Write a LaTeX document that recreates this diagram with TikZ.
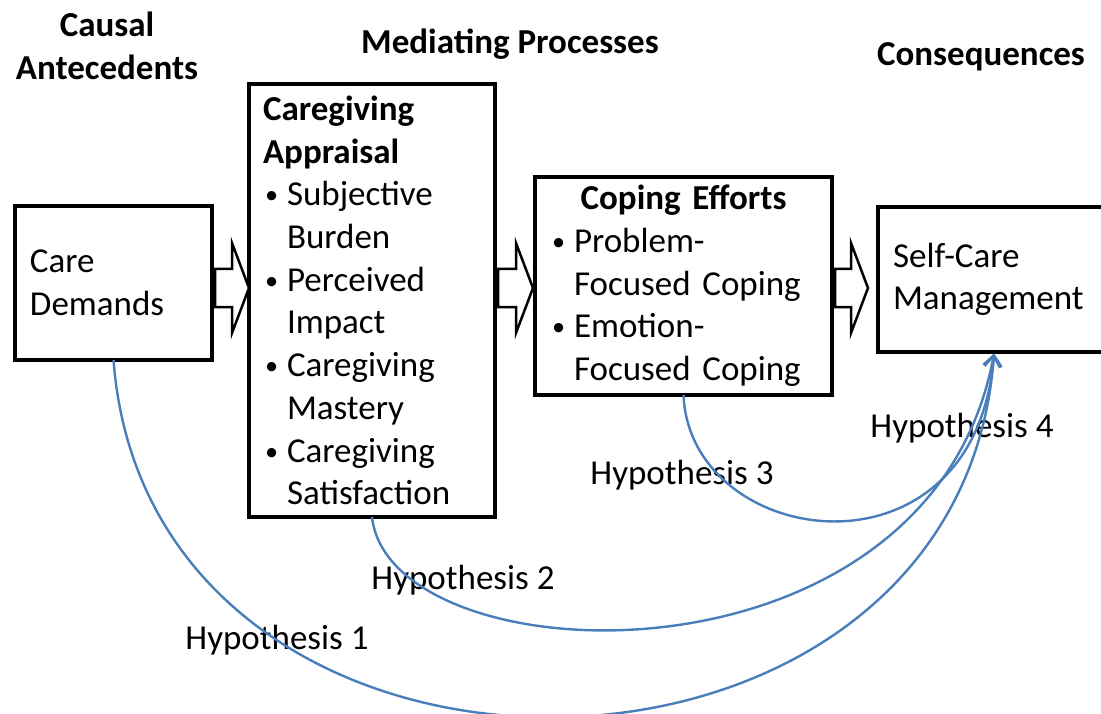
\documentclass[tikz,border=0pt]{standalone}
\usepackage{fontspec}
\setmainfont{Carlito}
\usetikzlibrary{
    arrows.meta,
    positioning,
    calc
}

\definecolor{hypblue}{RGB}{74,126,187}
\newcommand{\bitem}[1]{\makebox[24pt][l]{\hspace{2pt}\raisebox{2pt}{\scalebox{0.75}{\textbullet}}}#1}
\newcommand{\bcont}[1]{\hspace*{24pt}#1}

\begin{document}
\begin{tikzpicture}[
    x=1pt, y=-1pt,
    every node/.style={font=\fontsize{35}{42.7}\selectfont},
    head_style/.style={
        align=center,
        font=\fontsize{35}{42.7}\selectfont\bfseries
    },
    box_style/.style={
        draw=black,
        line width=3.5pt,
        anchor=north west,
        align=left,
        inner ysep=0pt,
        outer sep=0pt
    },
    blk_style/.style={
        draw=black,
        line width=2.5pt,
        fill=white,
        line join=miter
    },
    hyp_style/.style={
        draw=hypblue,
        line width=2.4pt,
        -{Straight Barb[length=11pt,width=17pt]}
    }
]
\useasboundingbox (0,0) rectangle (1101,714);

% --- Headings ---
\node[head_style] (causal) at (107,46) {Causal\\Antecedents};
\node[head_style] (mediating) at (510,44) {Mediating Processes};
\node[head_style] (consequences) at (981,57) {Consequences};

% --- Boxes ---
\node[box_style, text width=167pt, inner xsep=15pt, minimum height=154pt] (care) at (15,206) {Care\\Demands};
\node[box_style, text width=218pt, inner xsep=14pt, minimum height=433pt] (appraisal) at (249,84)
    {\textbf{Caregiving}\\\textbf{Appraisal}\\\bitem{Subjective}\\\bcont{Burden}\\\bitem{Perceived}\\\bcont{Impact}\\\bitem{Caregiving}\\\bcont{Mastery}\\\bitem{Caregiving}\\\bcont{Satisfaction}};
\node[box_style, text width=267pt, inner xsep=15pt, minimum height=218pt] (coping) at (535,177)
    {\makebox[\linewidth]{\textbf{Coping Efforts}}\\\bitem{Problem-}\\\bcont{Focused Coping}\\\bitem{Emotion-}\\\bcont{Focused Coping}};
\node[box_style, text width=210pt, inner xsep=15pt, minimum height=145pt] (selfcare) at (878,207) {Self-Care\\Management};

% --- Block arrows between the boxes ---
\coordinate (arrow_mid) at (0,288);
\foreach \a/\b/\g in {care/appraisal/0, appraisal/coping/2, coping/selfcare/10} {
    \draw[blk_style] let \p1=(\a.east |- arrow_mid), \p2=(\b.west |- arrow_mid) in
        (\x1+3,\y1-19) -- (\x2-\g-17,\y1-19) -- (\x2-\g-17,\y1-45) -- (\x2-\g,\y1)
        -- (\x2-\g-17,\y1+45) -- (\x2-\g-17,\y1+19) -- (\x1+3,\y1+19) -- cycle;
}

% --- Hypothesis labels ---
\node (hyp1) at (277,640) {Hypothesis 1};
\node (hyp2) at (463,580) {Hypothesis 2};
\node (hyp3) at (682,475) {Hypothesis 3};
\node (hyp4) at (962,428) {Hypothesis 4};

% --- Hypothesis paths ---
\coordinate (hyp_end) at ($(selfcare.south west)+(116,1.5)$);
\draw[hyp_style] (care.south) .. controls (150,842) and (960,832) .. (hyp_end);
\draw[hyp_style] (appraisal.south) .. controls (390,680) and (930,700) .. (hyp_end);
\draw[hyp_style] (coping.south) .. controls (690,550) and (975,590) .. (hyp_end);

\end{tikzpicture}
\end{document}
